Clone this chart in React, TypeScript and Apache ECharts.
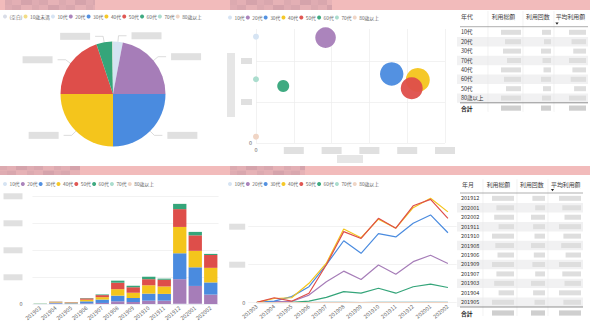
import React, { useEffect, useRef } from 'react';
import * as echarts from 'echarts';

// ---------- data ----------
const ageCats = ['(空白)', '10歳未満', '10代', '20代', '30代', '40代', '50代', '60代', '70代', '80歳以上'];
const pieValues = [0, 0, 3.0, 22.0, 25.0, 25.0, 19.9, 4.8, 0.2, 0.1];

const seriesAges = ['10代', '20代', '30代', '40代', '50代', '60代', '70代', '80歳以上'];
const scatterX = [0, 184, 359, 428, 412, 72, 0, 0];
const scatterY = [2593, 2570, 1683, 1537, 1334, 1390, 1554, 154];
const bubbleSize = [9, 106, 137, 144, 121, 36, 9, 9];

const months = ['201903', '201904', '201905', '201906', '201907', '201908', '201909', '201910', '201911', '201912', '202001', '202002'];

const bar10 = [1, 1, 1, 1, 1, 1, 1, 1, 1, 2, 2, 1];
const bar20 = [0, 2, 1, 2.5, 4, 10, 7.5, 12.5, 12.5, 91, 66, 35];
const bar30 = [0.5, 3, 2, 7.5, 12.5, 21, 15, 26, 25, 96, 69, 45];
const bar40 = [0.5, 2, 2, 6, 9, 24, 19, 31, 27.5, 97.5, 61, 54];
const bar50 = [0, 1.5, 1.5, 5, 7.5, 24, 21, 22.5, 25, 66, 57.5, 47.5];
const bar60 = [0.5, 0.5, 0.5, 1.25, 2.5, 7.5, 5, 9, 4, 19, 12.5, 4];
const bar70 = [1, 0, 0, 0, 0.5, 0.5, 0, 0.5, 0, 1, 0.5, 0.5];
const bar80 = [0, 0, 0, 0, 0, 0, 0, 0, 0, 0.5, 0, 0];
const barValues = [bar10, bar20, bar30, bar40, bar50, bar60, bar70, bar80];

const line10 = [0, 0, 0, 1, 2, 2, 1, 2, 2, 2, 3, 2];
const line20 = [0, 3, 3, 20, 55, 83, 61, 99, 75, 108, 125, 103];
const line30 = [1, 4, 16, 42, 100, 163, 130, 182, 173, 209, 231, 184];
const line40 = [1, 11, 13, 51, 104, 194, 171, 220, 196, 250, 275, 239];
const line50 = [1, 13, 4, 25, 100, 187, 169, 222, 196, 255, 272, 222];
const line60 = [0, 0, 1, 4, 14, 29, 25, 38, 25, 42, 49, 40];
const line70 = [0, 0, 0, 0, 1, 1, 0, 1, 1, 1, 1, 1];
const line80 = [0, 0, 0, 0, 0, 0, 0, 0, 0, 0, 0, 0];
const lineValues = [line10, line20, line30, line40, line50, line60, line70, line80];

const topHeaders = ['年代', '利用総額', '利用回数', '平均利用額'];
const topRows = ['10代', '20代', '30代', '70代', '40代', '60代', '50代', '80歳以上'];
const bottomHeaders = ['年月', '利用総額', '利用回数', '平均利用額'];
const bottomRows = ['201912', '202001', '202002', '201911', '201910', '201908', '201906', '201909', '201907', '201903', '201904', '201905'];
const totalLabel = '合計';

// ---------- styles ----------
const FONT = '"Noto Sans CJK JP", "Noto Sans", Roboto, sans-serif';
const colorMap: Record<string, string> = {
  '(空白)': '#D9DDE7',
  '10歳未満': '#F2DD86',
  '10代': '#D4E3F2',
  '20代': '#A67DB8',
  '30代': '#4A8BDF',
  '40代': '#F4C51C',
  '50代': '#DE4E4A',
  '60代': '#35A57A',
  '70代': '#A6DBCB',
  '80歳以上': '#EFD3C2',
};
const GRID_LINE = '#ececec';
const BLUR = '#e0e0e0';

const legendBase = {
  icon: 'circle',
  itemWidth: 4,
  itemHeight: 4,
  itemGap: 1.2,
  padding: 0,
  selectedMode: false,
  textStyle: { fontSize: 4.8, color: '#666', fontFamily: FONT, padding: [0, 0, 0, -2.5] },
};

const blurFmt = (v: number) => (v === 0 ? '0' : '{g| }');
const blurRich = (w: number, h: number) => ({ g: { width: w, height: h, backgroundColor: BLUR } });
const splitLine = { lineStyle: { color: GRID_LINE, width: 0.7 }, showMaxLine: false };

function txt(t: string, x: number, y: number, size: number, color: string, bold = false, align = 'left') {
  return {
    type: 'text', x, y, silent: true,
    style: {
      text: t, fill: color, fontSize: size, fontFamily: FONT, fontWeight: bold ? 'bold' : 'normal',
      align, verticalAlign: 'middle', textAlign: align, textVerticalAlign: 'middle',
    },
  };
}
function rect(x: number, y: number, w: number, h: number, fill: string) {
  return { type: 'rect', silent: true, shape: { x, y, width: w, height: h }, style: { fill } };
}
function ln(x1: number, y1: number, x2: number, y2: number, stroke: string, lw: number) {
  return { type: 'line', silent: true, shape: { x1, y1, x2, y2 }, style: { stroke, lineWidth: lw } };
}

const boxPattern = [1, 0.8, 0.9, 0.7, 1, 0.85, 0.75];

function buildTable(cfg: any) {
  const els: any[] = [];
  cfg.rows.forEach((_: string, i: number) => {
    if (i % 2 === 1) els.push(rect(cfg.x0, cfg.rowTop + cfg.rowH * i, cfg.x1 - cfg.x0, cfg.rowH, '#f1f1f2'));
  });
  const totalLineY = cfg.rowTop + cfg.rowH * cfg.rows.length;
  cfg.seps.forEach((sx: number) => els.push(ln(sx, cfg.headerY - 5, sx, totalLineY + 9, '#e9e9e9', 0.6)));
  cfg.headers.forEach((h: string, j: number) => els.push(txt(h, cfg.headerX[j], cfg.headerY, 5.9, '#444')));
  const ax = cfg.arrowX, ay = cfg.arrowY;
  els.push({ type: 'polygon', silent: true, shape: { points: [[ax - 1.6, ay - 1], [ax + 1.6, ay - 1], [ax, ay + 1.2]] }, style: { fill: '#222' } });
  els.push(ln(cfg.x0 + 3, cfg.headerLineY, cfg.x1, cfg.headerLineY, '#8c8c8c', 0.7));
  cfg.rows.forEach((r: string, i: number) => {
    const cy = cfg.rowTop + cfg.rowH * (i + 0.5);
    els.push(txt(r, cfg.textX, cy, 5.5, '#333'));
    cfg.valRights.forEach((vr: number, j: number) => {
      const w = cfg.valW[j] * boxPattern[(i + j * 2) % boxPattern.length];
      els.push(rect(vr - w, cy - 2.5, w, 5, '#dedede'));
    });
  });
  els.push(ln(cfg.x0 + 3, totalLineY, cfg.x1, totalLineY, '#666', 0.7));
  const ty = totalLineY + cfg.totalOffset;
  els.push(txt(totalLabel, cfg.textX, ty, 5.8, '#222', true));
  cfg.valRights.forEach((vr: number, j: number) => {
    els.push(rect(vr - cfg.valW[j], ty - 2.6, cfg.valW[j], 5.2, '#cfcfcf'));
  });
  return els;
}

const blotchColors = ['#dcaab0', '#e3afb4', '#d5a3ab', '#dfacb2', '#d9a7ae', '#e6b2b6'];
function blotch(x: number, y: number, w: number, h: number) {
  const els: any[] = [];
  let cx = x, k = 0;
  while (cx < x + w) {
    const sw = Math.min(7 + (k % 3) * 2, x + w - cx);
    els.push(rect(cx, y, sw, h / 2, blotchColors[k % blotchColors.length]));
    els.push(rect(cx, y + h / 2, sw, h / 2, blotchColors[(k + 3) % blotchColors.length]));
    cx += sw; k++;
  }
  return els;
}

export default function App() {
  const ref = useRef<HTMLDivElement>(null);
  useEffect(() => {
    const chart = echarts.init(ref.current!, null, { renderer: 'svg' });

    const graphics: any[] = [
      rect(0, 0, 590, 10, '#f2bbbb'),
      rect(0, 166, 590, 9, '#f2bbbb'),
      ...blotch(5, 0, 90, 10),
      ...blotch(230, 0, 102, 10),
      ...blotch(0, 166, 80, 9),
      ...blotch(230, 166, 75, 9),
      rect(227, 53, 8, 64, '#e6e6e6'),
      rect(337, 155, 26, 8, '#e6e6e6'),
      ...buildTable({
        x0: 457, x1: 588, headerY: 16, headerLineY: 26.7, rowTop: 27.6, rowH: 9.4,
        rows: topRows, headers: topHeaders, headerX: [461, 491.7, 526, 555.7],
        seps: [488, 523, 554], arrowX: 557, arrowY: 23.5, textX: 461,
        valRights: [521, 551, 586], valW: [20, 10, 17], totalOffset: 5.3,
      }),
      ...buildTable({
        x0: 457, x1: 583, headerY: 184.3, headerLineY: 193, rowTop: 193.6, rowH: 9.45,
        rows: bottomRows, headers: bottomHeaders, headerX: [462, 486.7, 520, 551],
        seps: [483, 517, 548], arrowX: 552.5, arrowY: 190, textX: 461,
        valRights: [514, 545, 581], valW: [22, 14, 22], totalOffset: 6,
      }),
    ];

    const option: any = {
      animation: false,
      backgroundColor: '#ffffff',
      textStyle: { fontFamily: FONT },
      legend: [
        { ...legendBase, data: ageCats, left: 3, top: 14 },
        { ...legendBase, data: seriesAges, left: 228, top: 15 },
        { ...legendBase, data: seriesAges, left: 3, top: 181.5 },
        { ...legendBase, data: seriesAges, left: 228, top: 181.5 },
      ],
      grid: [
        { left: 256, top: 29, width: 189, height: 114, outerBoundsMode: 'none' },
        { left: 32.5, top: 196.3, width: 186, height: 108, outerBoundsMode: 'none' },
        { left: 248.2, top: 192.5, width: 208.4, height: 110.2, outerBoundsMode: 'none' },
      ],
      xAxis: [
        {
          gridIndex: 0, type: 'value', min: 0, max: 500, interval: 100,
          axisLine: { show: false }, axisTick: { show: false },
          splitLine: { lineStyle: { color: GRID_LINE, width: 0.7 } },
          axisLabel: { formatter: blurFmt, rich: blurRich(20, 7), fontSize: 5.5, color: '#666', margin: 4 },
        },
        {
          gridIndex: 1, type: 'category', data: months,
          axisLine: { show: false }, axisTick: { show: false },
          axisLabel: { rotate: 40, fontSize: 5.5, color: '#666', margin: 3, interval: 0 },
        },
        {
          gridIndex: 2, type: 'category', data: months, boundaryGap: true,
          axisLine: { show: false }, axisTick: { show: false },
          axisLabel: { rotate: 40, fontSize: 5.5, color: '#666', margin: 3, interval: 0 },
        },
      ],
      yAxis: [
        {
          gridIndex: 0, type: 'value', min: 0, max: 2780, interval: 1000,
          axisLine: { show: false }, axisTick: { show: false },
          splitLine,
          axisLabel: { formatter: blurFmt, rich: blurRich(11, 6), fontSize: 5.5, color: '#666', margin: 4, showMaxLabel: false },
        },
        {
          gridIndex: 1, type: 'value', min: 0, max: 400, interval: 100,
          axisLine: { show: false }, axisTick: { show: false },
          splitLine: { lineStyle: { color: GRID_LINE, width: 0.7 } },
          axisLabel: { formatter: blurFmt, rich: blurRich(19, 6), fontSize: 5.5, color: '#666', margin: 10 },
        },
        {
          gridIndex: 2, type: 'value', min: 0, max: 290, interval: 100,
          axisLine: { show: false }, axisTick: { show: false },
          splitLine,
          axisLabel: { formatter: blurFmt, rich: blurRich(16, 6), fontSize: 5.5, color: '#666', margin: 3, showMaxLabel: false },
        },
      ],
      graphic: graphics,
      series: [
        {
          type: 'pie', center: [113, 94], radius: 52.5, startAngle: 90, clockwise: true,
          silent: true, avoidLabelOverlap: true,
          itemStyle: { borderWidth: 0 },
          label: { position: 'outside', formatter: '{g| }', rich: { g: { width: 30, height: 7, backgroundColor: BLUR } } },
          labelLine: { length: 6, length2: 8, lineStyle: { color: '#c4c4c4', width: 0.6 } },
          data: ageCats.map((n, i) => ({
            name: n, value: pieValues[i], itemStyle: { color: colorMap[n] },
            label: { show: pieValues[i] >= 1 }, labelLine: { show: pieValues[i] >= 1 },
          })),
        },
        ...seriesAges.map((n, i) => ({
          type: 'scatter', name: n, xAxisIndex: 0, yAxisIndex: 0, silent: true,
          data: [[scatterX[i], scatterY[i], bubbleSize[i]]],
          symbolSize: (v: number[]) => 2 * Math.sqrt(v[2]),
          itemStyle: { color: colorMap[n], opacity: 0.95 },
        })),
        ...seriesAges.map((n, i) => ({
          type: 'bar', name: n, stack: 'age', xAxisIndex: 1, yAxisIndex: 1, silent: true,
          barCategoryGap: '14%', data: barValues[i], itemStyle: { color: colorMap[n] },
        })),
        ...seriesAges.map((n, i) => ({
          type: 'line', name: n, xAxisIndex: 2, yAxisIndex: 2, silent: true,
          symbol: 'none', data: lineValues[i],
          itemStyle: { color: colorMap[n] }, lineStyle: { color: colorMap[n], width: 1.2 },
        })),
      ],
    };
    chart.setOption(option);
    return () => chart.dispose();
  }, []);
  return <div ref={ref} style={{ position: 'fixed', left: 0, top: 0, width: 590, height: 328, background: '#fff' }} />;
}
